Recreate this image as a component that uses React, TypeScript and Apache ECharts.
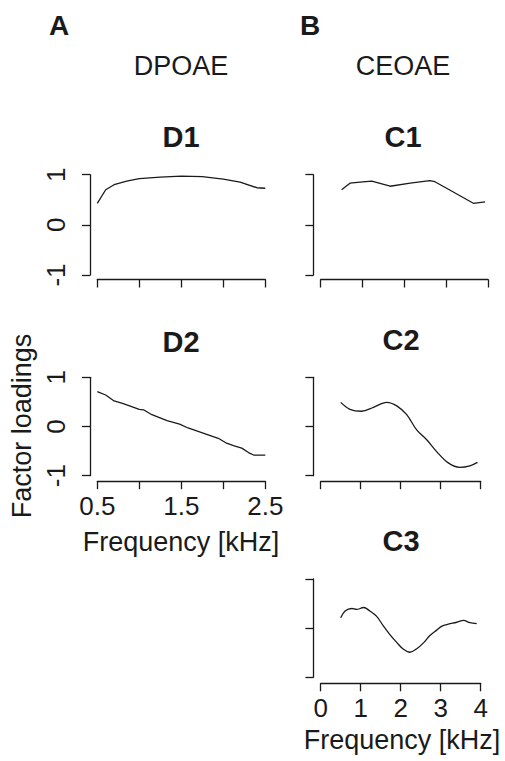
import React, { useEffect, useRef } from "react";
import * as echarts from "echarts";

// ---- data ----
const d1Freq = [0.5, 0.6, 0.7, 0.85, 1.0, 1.25, 1.5, 1.75, 2.0, 2.2, 2.4, 2.5];
const d1Load = [0.43, 0.7, 0.8, 0.87, 0.92, 0.95, 0.97, 0.96, 0.91, 0.85, 0.74, 0.73];

const d2Freq = [0.5, 0.6, 0.7, 0.8, 0.9, 1.0, 1.05, 1.15, 1.33, 1.48, 1.58, 1.82, 1.94, 2.04, 2.12, 2.22, 2.3, 2.36, 2.5];
const d2Load = [0.71, 0.64, 0.52, 0.47, 0.41, 0.35, 0.34, 0.24, 0.12, 0.05, -0.03, -0.17, -0.24, -0.34, -0.39, -0.44, -0.53, -0.58, -0.58];

const c1Freq = [0.5, 0.7, 0.94, 1.22, 1.66, 2.14, 2.61, 2.73, 3.01, 3.33, 3.65, 3.93];
const c1Load = [0.7, 0.83, 0.85, 0.87, 0.77, 0.83, 0.88, 0.86, 0.73, 0.58, 0.43, 0.46];

const c2Freq = [0.5, 0.73, 1.02, 1.32, 1.65, 1.9, 2.15, 2.4, 2.65, 2.9, 3.19, 3.48, 3.73, 3.92];
const c2Load = [0.49, 0.35, 0.31, 0.39, 0.49, 0.42, 0.24, -0.07, -0.27, -0.51, -0.74, -0.83, -0.8, -0.73];

const c3Freq = [0.5, 0.61, 0.78, 0.9, 1.07, 1.23, 1.4, 1.57, 1.73, 1.9, 2.07, 2.23, 2.4, 2.57, 2.73, 2.9, 3.03, 3.19, 3.4, 3.57, 3.73, 3.9];
const c3Load = [0.21, 0.35, 0.4, 0.38, 0.42, 0.35, 0.24, 0.04, -0.13, -0.29, -0.43, -0.49, -0.42, -0.3, -0.15, -0.04, 0.04, 0.08, 0.12, 0.16, 0.11, 0.09];

const dpoaeTicks = [0.5, 1.0, 1.5, 2.0, 2.5];
const dpoaeTickLabels = ["0.5", "", "1.5", "", "2.5"];
const ceoaeTickLabels = ["0", "1", "2", "3", "4"];
const loadingTickLabels = ["-1", "0", "1"];

const panelTitles = ["D1", "D2", "C1", "C2", "C3"];

const FONT = '"Liberation Sans", Arial, Helvetica, sans-serif';
const INK = "#1a1a1a";

const pairs = (xs: number[], ys: number[]) => xs.map((x, i) => [x, ys[i]]);

export default function App() {
  const ref = useRef<HTMLDivElement>(null);

  useEffect(() => {
    if (!ref.current) return;
    const chart = echarts.init(ref.current, undefined, { renderer: "svg" });

    const grids = [
      { left: 97.3, top: 174.7, width: 168, height: 100.3 },
      { left: 97.3, top: 377.3, width: 168, height: 98.4 },
      { left: 320.7, top: 174.7, width: 167.3, height: 100.3 },
      { left: 320.7, top: 377.3, width: 160, height: 98.4 },
      { left: 320.7, top: 579, width: 160, height: 98.3 },
    ];
    const xOffsets = [4.5, 5.5, 4.5, 5.5, 6];
    const isD = [true, true, false, false, false];
    const showXLabels = [false, true, false, false, true];
    const showYLabels = [true, true, false, false, false];
    const seriesData = [
      pairs(d1Freq, d1Load),
      pairs(d2Freq, d2Load),
      pairs(c1Freq, c1Load),
      pairs(c2Freq, c2Load),
      pairs(c3Freq, c3Load),
    ];

    const xAxes = grids.map((_, i) => ({
      type: "value",
      gridIndex: i,
      min: isD[i] ? dpoaeTicks[0] : 0,
      max: isD[i] ? dpoaeTicks[dpoaeTicks.length - 1] : 4,
      interval: isD[i] ? 0.5 : 1,
      position: "bottom",
      offset: xOffsets[i],
      axisLine: { show: true, onZero: false, lineStyle: { color: INK, width: 1.3 } },
      axisTick: { show: true, length: 8, lineStyle: { color: INK, width: 1.3 } },
      splitLine: { show: false },
      axisLabel: {
        show: showXLabels[i],
        margin: 12,
        fontSize: 26,
        fontFamily: FONT,
        color: INK,
        formatter: (v: number) => {
          if (isD[i]) {
            const k = dpoaeTicks.findIndex((t) => Math.abs(t - v) < 1e-6);
            return k >= 0 ? dpoaeTickLabels[k] : "";
          }
          const k = Math.round(v);
          return ceoaeTickLabels[k] ?? "";
        },
      },
    }));

    const yAxes = grids.map((_, i) => ({
      type: "value",
      gridIndex: i,
      min: -1,
      max: 1,
      interval: 1,
      position: "left",
      offset: 7.3,
      axisLine: { show: true, onZero: false, lineStyle: { color: INK, width: 1.3 } },
      axisTick: { show: true, length: 8, lineStyle: { color: INK, width: 1.3 } },
      splitLine: { show: false },
      axisLabel: {
        show: showYLabels[i],
        rotate: 90,
        margin: 21,
        fontSize: 26,
        fontFamily: FONT,
        color: INK,
        formatter: (v: number) => loadingTickLabels[Math.round(v) + 1] ?? "",
      },
    }));

    const series = seriesData.map((d, i) => ({
      type: "line",
      xAxisIndex: i,
      yAxisIndex: i,
      data: d,
      showSymbol: false,
      symbol: "none",
      smooth: i >= 3 ? 0.35 : false,
      lineStyle: { color: INK, width: 1.3 },
    }));

    const titlePos = [
      [181, 137],
      [181, 342],
      [403, 137],
      [401, 340],
      [401, 541],
    ];

    const txt = (
      text: string,
      x: number,
      y: number,
      size: number,
      bold: boolean,
      rotation = 0
    ) => ({
      type: "text",
      x,
      y,
      rotation,
      silent: true,
      style: {
        text,
        fill: INK,
        fontSize: size,
        fontWeight: bold ? "bold" : "normal",
        fontFamily: FONT,
        align: "center",
        verticalAlign: "middle",
        textAlign: "center",
        textVerticalAlign: "middle",
      },
    });

    const graphics = [
      txt("A", 59, 25, 28, true),
      txt("B", 310, 25, 28, true),
      txt("DPOAE", 181, 66, 27, false),
      txt("CEOAE", 403, 66, 27, false),
      ...panelTitles.map((t, i) => txt(t, titlePos[i][0], titlePos[i][1], 29, true)),
      txt("Factor loadings", 22, 426, 27, false, Math.PI / 2),
      txt("Frequency [kHz]", 181, 542, 27, false),
      txt("Frequency [kHz]", 402, 740, 27, false),
    ];

    chart.setOption({
      animation: false,
      backgroundColor: "#ffffff",
      grid: grids.map((g) => ({ ...g, containLabel: false })),
      xAxis: xAxes,
      yAxis: yAxes,
      series,
      graphic: graphics,
    } as any);

    return () => chart.dispose();
  }, []);

  return (
    <div
      ref={ref}
      style={{ position: "absolute", left: 0, top: 0, width: 505, height: 761, background: "#fff" }}
    />
  );
}
